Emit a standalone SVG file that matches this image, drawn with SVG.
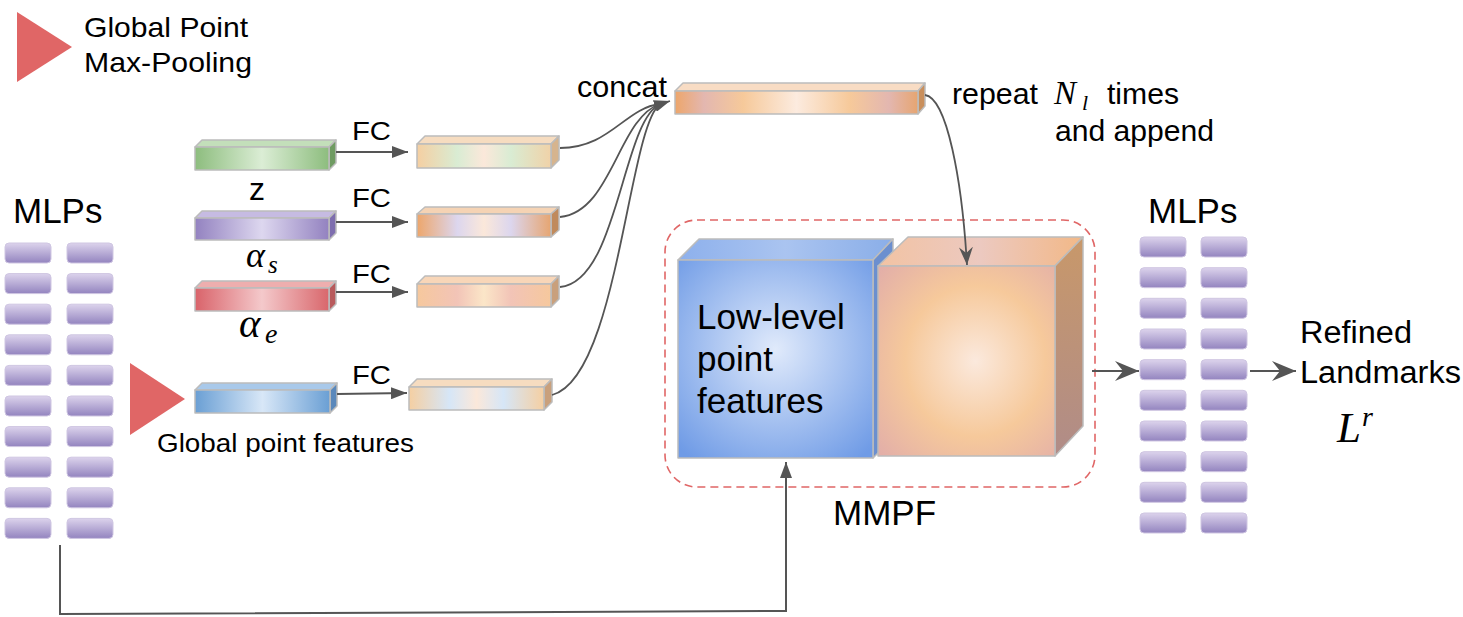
<svg xmlns="http://www.w3.org/2000/svg" width="1463" height="617" viewBox="0 0 1463 617">
<style>
.t{font-family:"Liberation Sans",Arial,sans-serif;fill:#000}
.m{font-family:"Liberation Serif","Times New Roman",serif;font-style:italic;fill:#000}
.edge{stroke:#bcbcbc;stroke-width:1.5;stroke-linejoin:round}
.ln{fill:none;stroke:#555;stroke-width:2}
.cv{fill:none;stroke:#555;stroke-width:1.8}
.mlp{fill:url(#gMlp);stroke:#cfc6e2;stroke-width:1}
</style>
<defs>
<marker id="tri" viewBox="0 0 16 12" refX="16" refY="6" markerWidth="16" markerHeight="12" markerUnits="userSpaceOnUse" orient="auto"><path d="M0,0 L16,6 L0,12 z" fill="#555"/></marker>
<marker id="barb" viewBox="0 0 18 14" refX="18" refY="7" markerWidth="18" markerHeight="14" markerUnits="userSpaceOnUse" orient="auto"><path d="M0,0 L18,7 L0,14 L6,7 z" fill="#555"/></marker>
<marker id="barbL" viewBox="0 0 24 20" refX="24" refY="10" markerWidth="24" markerHeight="20" markerUnits="userSpaceOnUse" orient="auto"><path d="M0,0 L24,10 L0,20 L8,10 z" fill="#555"/></marker>
<linearGradient id="gMlp" x1="0" y1="0" x2="0" y2="1"><stop offset="0" stop-color="#dcd3ec"/><stop offset="1" stop-color="#9384bf"/></linearGradient>
<linearGradient id="gGreen" x1="0" x2="1"><stop offset="0" stop-color="#8dbd7e"/><stop offset="0.5" stop-color="#dbedd5"/><stop offset="1" stop-color="#8dbd7e"/></linearGradient>
<linearGradient id="gPurp" x1="0" x2="1"><stop offset="0" stop-color="#9382c0"/><stop offset="0.5" stop-color="#ddd7ef"/><stop offset="1" stop-color="#9382c0"/></linearGradient>
<linearGradient id="gRed" x1="0" x2="1"><stop offset="0" stop-color="#d9636a"/><stop offset="0.5" stop-color="#f4c9cb"/><stop offset="1" stop-color="#d9676c"/></linearGradient>
<linearGradient id="gBlue" x1="0" x2="1"><stop offset="0" stop-color="#6a9fd4"/><stop offset="0.5" stop-color="#d8e7f7"/><stop offset="1" stop-color="#6a9fd4"/></linearGradient>
<linearGradient id="gO1" x1="0" x2="1"><stop offset="0" stop-color="#f5cfa2"/><stop offset="0.3" stop-color="#d9ecd3"/><stop offset="0.5" stop-color="#fbe8da"/><stop offset="0.7" stop-color="#d9ecd3"/><stop offset="1" stop-color="#f0d2a8"/></linearGradient>
<linearGradient id="gO2" x1="0" x2="1"><stop offset="0" stop-color="#eda66b"/><stop offset="0.3" stop-color="#dcd6ee"/><stop offset="0.5" stop-color="#fbe8da"/><stop offset="0.7" stop-color="#dcd6ee"/><stop offset="1" stop-color="#e6a571"/></linearGradient>
<linearGradient id="gO3" x1="0" x2="1"><stop offset="0" stop-color="#f6c89d"/><stop offset="0.3" stop-color="#f2c4b7"/><stop offset="0.5" stop-color="#fbe6c8"/><stop offset="0.7" stop-color="#f2c4b7"/><stop offset="1" stop-color="#f6c89d"/></linearGradient>
<linearGradient id="gO4" x1="0" x2="1"><stop offset="0" stop-color="#f5cfa2"/><stop offset="0.3" stop-color="#d6e6f7"/><stop offset="0.5" stop-color="#fbe8da"/><stop offset="0.7" stop-color="#d6e6f7"/><stop offset="1" stop-color="#f5cfa2"/></linearGradient>
<linearGradient id="gCat" x1="0" x2="1"><stop offset="0" stop-color="#eda66b"/><stop offset="0.12" stop-color="#e3b7b0"/><stop offset="0.28" stop-color="#f6c99a"/><stop offset="0.5" stop-color="#fcebdf"/><stop offset="0.72" stop-color="#f6c99a"/><stop offset="0.88" stop-color="#e3b7b0"/><stop offset="1" stop-color="#e6a571"/></linearGradient>
<radialGradient id="gBlueFront" cx="0.5" cy="0.45" r="0.7"><stop offset="0" stop-color="#e0eafb"/><stop offset="1" stop-color="#6f9be6"/></radialGradient>
<linearGradient id="gBlueTop" x1="0" x2="1"><stop offset="0" stop-color="#8db0ec"/><stop offset="0.5" stop-color="#aac4f0"/><stop offset="1" stop-color="#8aaee8"/></linearGradient>
<radialGradient id="gOrFront" cx="0.55" cy="0.5" r="0.72"><stop offset="0" stop-color="#fbe9dd"/><stop offset="0.55" stop-color="#f6c99b"/><stop offset="1" stop-color="#e3afa8"/></radialGradient>
<linearGradient id="gOrTop" x1="0" x2="1"><stop offset="0" stop-color="#f2c3a3"/><stop offset="0.5" stop-color="#ecc9c0"/><stop offset="1" stop-color="#f2b887"/></linearGradient>
<linearGradient id="gOrSide" x1="0" y1="0" x2="0" y2="1"><stop offset="0" stop-color="#c8986a"/><stop offset="1" stop-color="#b08c88"/></linearGradient>
</defs>

<g id="legend">
<polygon points="17,12 72,47 17,82" fill="#e06666"/>
<text class="t" x="84" y="37" font-size="28" textLength="164" lengthAdjust="spacingAndGlyphs">Global Point</text>
<text class="t" x="84" y="72" font-size="28" textLength="168" lengthAdjust="spacingAndGlyphs">Max-Pooling</text>
</g>

<g id="mlps-left">
<text class="t" x="13" y="223" font-size="35">MLPs</text>
<rect class="mlp" x="5" y="243" width="46" height="20" rx="4"/><rect class="mlp" x="67" y="243" width="46" height="20" rx="4"/>
<rect class="mlp" x="5" y="273.6" width="46" height="20" rx="4"/><rect class="mlp" x="67" y="273.6" width="46" height="20" rx="4"/>
<rect class="mlp" x="5" y="304.2" width="46" height="20" rx="4"/><rect class="mlp" x="67" y="304.2" width="46" height="20" rx="4"/>
<rect class="mlp" x="5" y="334.8" width="46" height="20" rx="4"/><rect class="mlp" x="67" y="334.8" width="46" height="20" rx="4"/>
<rect class="mlp" x="5" y="365.4" width="46" height="20" rx="4"/><rect class="mlp" x="67" y="365.4" width="46" height="20" rx="4"/>
<rect class="mlp" x="5" y="396" width="46" height="20" rx="4"/><rect class="mlp" x="67" y="396" width="46" height="20" rx="4"/>
<rect class="mlp" x="5" y="426.6" width="46" height="20" rx="4"/><rect class="mlp" x="67" y="426.6" width="46" height="20" rx="4"/>
<rect class="mlp" x="5" y="457.2" width="46" height="20" rx="4"/><rect class="mlp" x="67" y="457.2" width="46" height="20" rx="4"/>
<rect class="mlp" x="5" y="487.8" width="46" height="20" rx="4"/><rect class="mlp" x="67" y="487.8" width="46" height="20" rx="4"/>
<rect class="mlp" x="5" y="518.4" width="46" height="20" rx="4"/><rect class="mlp" x="67" y="518.4" width="46" height="20" rx="4"/>
</g>

<g id="maxpool">
<polygon points="130,363 185,399 130,435" fill="#e06666"/>
</g>

<g id="z">
<polygon class="edge" points="195,147 202,140 336,140 329,147" fill="#c3dfba"/>
<polygon class="edge" points="329,147 336,140 336,163 329,170" fill="#6f9b62"/>
<rect class="edge" x="195" y="147" width="134" height="23" fill="url(#gGreen)"/>
<text class="t" x="249" y="200" font-size="32">z</text>
</g>

<g id="alpha-s">
<polygon class="edge" points="195,218 202,211 336,211 329,218" fill="#c6bbe2"/>
<polygon class="edge" points="329,218 336,211 336,233 329,240" fill="#7e6eae"/>
<rect class="edge" x="195" y="218" width="134" height="22" fill="url(#gPurp)"/>
<text class="m" x="246" y="267" font-size="36">α</text>
<text class="m" x="268" y="273" font-size="25">s</text>
</g>

<g id="alpha-e">
<polygon class="edge" points="195,288 202,281 336,281 329,288" fill="#eeaeae"/>
<polygon class="edge" points="329,288 336,281 336,304 329,311" fill="#b85a5c"/>
<rect class="edge" x="195" y="288" width="134" height="23" fill="url(#gRed)"/>
<text class="m" x="239" y="337" font-size="41">α</text>
<text class="m" x="265" y="343" font-size="28">e</text>
</g>

<g id="global-features">
<polygon class="edge" points="195,390 202,383 337,383 330,390" fill="#a9c9ea"/>
<polygon class="edge" points="330,390 337,383 337,406 330,413" fill="#5a88bb"/>
<rect class="edge" x="195" y="390" width="135" height="23" fill="url(#gBlue)"/>
<text class="t" x="157" y="452" font-size="25" textLength="257" lengthAdjust="spacingAndGlyphs">Global point features</text>
</g>

<g id="fc-z">
<polygon class="edge" points="417,144 425,136 559,136 551,144" fill="#f6dcc0"/>
<polygon class="edge" points="551,144 559,136 559,160 551,168" fill="#d6b48e"/>
<rect class="edge" x="417" y="144" width="134" height="24" fill="url(#gO1)"/>
</g>
<g id="fc-as">
<polygon class="edge" points="417,214 425,207 559,207 551,214" fill="#f5d3b4"/>
<polygon class="edge" points="551,214 559,207 559,230 551,237" fill="#c08a5c"/>
<rect class="edge" x="417" y="214" width="134" height="23" fill="url(#gO2)"/>
</g>
<g id="fc-ae">
<polygon class="edge" points="417,284 425,276 559,276 551,284" fill="#f8d6b8"/>
<polygon class="edge" points="551,284 559,276 559,299 551,307" fill="#c9a07c"/>
<rect class="edge" x="417" y="284" width="134" height="23" fill="url(#gO3)"/>
</g>
<g id="fc-g">
<polygon class="edge" points="409,387 417,379 552,379 544,387" fill="#f6dcc0"/>
<polygon class="edge" points="544,387 552,379 552,402 544,410" fill="#c9a07c"/>
<rect class="edge" x="409" y="387" width="135" height="23" fill="url(#gO4)"/>
</g>

<g id="concat">
<polygon class="edge" points="675,91 683,83 925,83 918,91" fill="#f8dcc4"/>
<polygon class="edge" points="918,91 925,83 925,106 918,114" fill="#c98f5c"/>
<rect class="edge" x="675" y="91" width="243" height="23" fill="url(#gCat)"/>
<text class="t" x="577" y="97" font-size="29" textLength="90" lengthAdjust="spacingAndGlyphs">concat</text>
</g>

<g id="repeat-label">
<text class="t" x="952" y="104" font-size="29" textLength="86" lengthAdjust="spacingAndGlyphs">repeat</text>
<text class="m" x="1054" y="104" font-size="33">N</text>
<text class="m" x="1082" y="110" font-size="22">l</text>
<text class="t" x="1107" y="104" font-size="29" textLength="72" lengthAdjust="spacingAndGlyphs">times</text>
<text class="t" x="1055" y="141" font-size="29" textLength="159" lengthAdjust="spacingAndGlyphs">and append</text>
</g>

<g id="mmpf">
<rect x="665" y="220" width="430" height="267" rx="32" fill="none" stroke="#e06666" stroke-width="1.6" stroke-dasharray="8,5"/>
<polygon class="edge" points="678,260 699,239 893,239 873,260" fill="url(#gBlueTop)"/>
<polygon class="edge" points="873,260 893,239 893,438 873,458" fill="#6b8fcf"/>
<rect class="edge" x="678" y="260" width="195" height="198" fill="url(#gBlueFront)"/>
<polygon class="edge" points="878,266 908,237 1083,237 1055,266" fill="url(#gOrTop)"/>
<polygon class="edge" points="1055,266 1083,237 1083,426 1055,456" fill="url(#gOrSide)"/>
<rect class="edge" x="878" y="266" width="177" height="190" fill="url(#gOrFront)"/>
<text class="t" x="697" y="329" font-size="35">Low-level</text>
<text class="t" x="697" y="371" font-size="35">point</text>
<text class="t" x="697" y="413" font-size="35">features</text>
<text class="t" x="833" y="525" font-size="35">MMPF</text>
</g>

<g id="mlps-right">
<text class="t" x="1148" y="223" font-size="35">MLPs</text>
<rect class="mlp" x="1140" y="237" width="46" height="20" rx="4"/><rect class="mlp" x="1201" y="237" width="46" height="20" rx="4"/>
<rect class="mlp" x="1140" y="267.7" width="46" height="20" rx="4"/><rect class="mlp" x="1201" y="267.7" width="46" height="20" rx="4"/>
<rect class="mlp" x="1140" y="298.3" width="46" height="20" rx="4"/><rect class="mlp" x="1201" y="298.3" width="46" height="20" rx="4"/>
<rect class="mlp" x="1140" y="329" width="46" height="20" rx="4"/><rect class="mlp" x="1201" y="329" width="46" height="20" rx="4"/>
<rect class="mlp" x="1140" y="359.7" width="46" height="20" rx="4"/><rect class="mlp" x="1201" y="359.7" width="46" height="20" rx="4"/>
<rect class="mlp" x="1140" y="390.3" width="46" height="20" rx="4"/><rect class="mlp" x="1201" y="390.3" width="46" height="20" rx="4"/>
<rect class="mlp" x="1140" y="421" width="46" height="20" rx="4"/><rect class="mlp" x="1201" y="421" width="46" height="20" rx="4"/>
<rect class="mlp" x="1140" y="451.7" width="46" height="20" rx="4"/><rect class="mlp" x="1201" y="451.7" width="46" height="20" rx="4"/>
<rect class="mlp" x="1140" y="482.3" width="46" height="20" rx="4"/><rect class="mlp" x="1201" y="482.3" width="46" height="20" rx="4"/>
<rect class="mlp" x="1140" y="513" width="46" height="20" rx="4"/><rect class="mlp" x="1201" y="513" width="46" height="20" rx="4"/>
</g>

<g id="output">
<text class="t" x="1300" y="343" font-size="31" textLength="112" lengthAdjust="spacingAndGlyphs">Refined</text>
<text class="t" x="1300" y="383" font-size="31" textLength="161" lengthAdjust="spacingAndGlyphs">Landmarks</text>
<text class="m" x="1337" y="442" font-size="43">L</text>
<text class="m" x="1362" y="426" font-size="28">r</text>
</g>

<g id="connectors">
<line class="ln" x1="336" y1="152" x2="408" y2="152" marker-end="url(#tri)"/>
<line class="ln" x1="336" y1="222" x2="408" y2="222" marker-end="url(#tri)"/>
<line class="ln" x1="336" y1="292" x2="408" y2="292" marker-end="url(#tri)"/>
<line class="ln" x1="337" y1="394" x2="407" y2="393" marker-end="url(#tri)"/>
<text class="t" x="352" y="140" font-size="26" textLength="39" lengthAdjust="spacingAndGlyphs">FC</text>
<text class="t" x="352" y="207" font-size="26" textLength="39" lengthAdjust="spacingAndGlyphs">FC</text>
<text class="t" x="352" y="283" font-size="26" textLength="39" lengthAdjust="spacingAndGlyphs">FC</text>
<text class="t" x="352" y="384" font-size="26" textLength="39" lengthAdjust="spacingAndGlyphs">FC</text>
<path class="cv" d="M560,148 C610,148 625,108 660,104"/>
<path class="cv" d="M560,217 C612,212 618,118 660,104"/>
<path class="cv" d="M560,287 C618,282 622,122 660,104"/>
<path class="cv" d="M552,395 C618,378 628,128 660,104"/>
<path class="cv" d="M655,106 L670,101" marker-end="url(#tri)"/>
<path class="cv" d="M925,95 C947,98 962,180 967,265" marker-end="url(#barb)"/>
<polyline class="ln" points="60,545 60,614 786,611 786,462" marker-end="url(#tri)"/>
<line class="ln" x1="1092" y1="371" x2="1139" y2="371" stroke-width="3.5" marker-end="url(#barbL)"/>
<line class="ln" x1="1250" y1="371" x2="1296" y2="371" stroke-width="3.5" marker-end="url(#barbL)"/>
</g>
</svg>
